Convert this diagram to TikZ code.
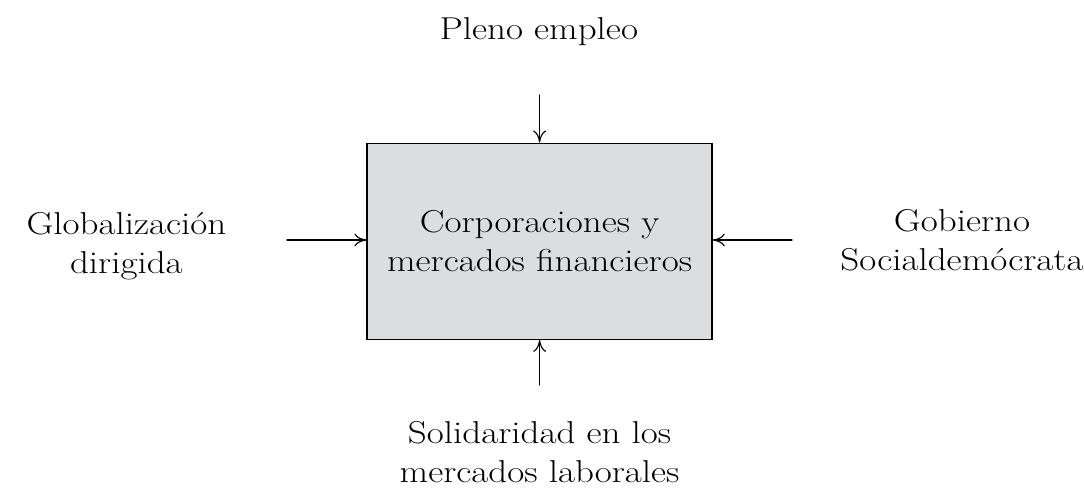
\documentclass[tikz,border=0pt]{standalone}
\usepackage{fontspec}
\setmainfont{Latin Modern Roman}[FakeStretch=1.17]
\usetikzlibrary{positioning,arrows.meta}
\definecolor{boxgray}{HTML}{DCDDDF}
\tikzset{
	bigtext/.style={font=\fontsize{22.5}{27.5}\selectfont, align=center, inner sep=0pt},
	corebox/.style={draw, fill=boxgray, line width=1pt, minimum width=8.625cm, minimum height=4.9cm, bigtext},
	feed/.style={-{To[length=3mm, width=3.2mm]}, line width=0.8pt}
}
\begin{document}
\begin{tikzpicture}[line cap=round]
		\useasboundingbox (0,0) rectangle (27.1,-12.225);
		% central box
		\node[corebox] (core) at (13.49,-6.03) {Corporaciones y\\mercados financieros};
		
		% surrounding labels
		\node[bigtext, anchor=base] (top) at (13.47,-0.975) {Pleno empleo};
		\node[bigtext, anchor=base] (left) at (3.16,-6.825) {Globalizaci\'on\\dirigida};
		\node[bigtext, anchor=base] (right) at (24.05,-6.75) {Gobierno\\Socialdem\'ocrata};
		\node[bigtext, anchor=base] (bottom) at (13.49,-12.05) {Solidaridad en los\\mercados laborales};
		
		% arrow tails
		\coordinate (topT) at (13.49,-2.375);
		\coordinate (leftT) at (7.175,-6.0);
		\coordinate (rightT) at (19.8,-6.0);
		\coordinate (bottomT) at (13.49,-9.625);
		
		% arrows
		\draw[feed] (topT) -- (core.north);
		\draw[feed] (leftT) -- (leftT -| core.west);
		\draw[feed] (rightT) -- (rightT -| core.east);
		\draw[feed] (bottomT) -- (core.south);
\end{tikzpicture}
\end{document}
